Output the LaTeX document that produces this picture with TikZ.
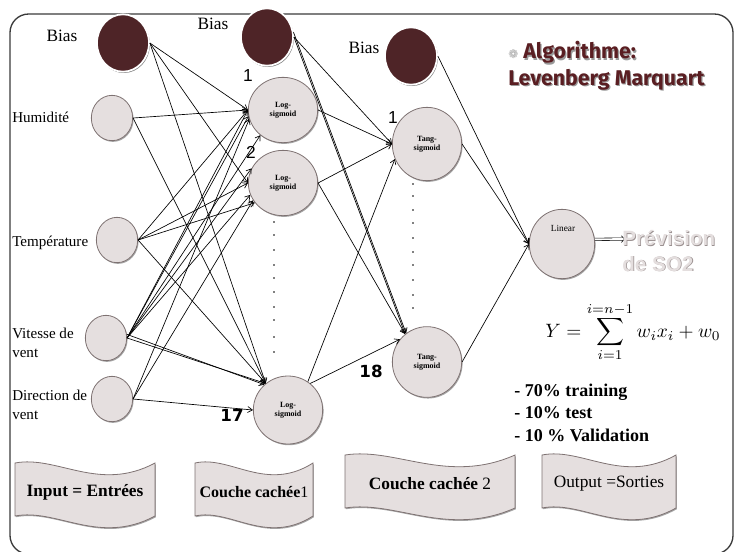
\documentclass[tikz,border=0pt]{standalone}
\usepackage{fontspec}
\usepackage{graphicx}
\setmainfont{Liberation Serif}
\newfontfamily\sansf{Liberation Sans}
\newfontfamily\dvs{DejaVu Sans}
\newfontfamily\fira{Fira Sans}
\usetikzlibrary{arrows.meta,shapes.geometric,shadows}
\definecolor{nodefill}{HTML}{E5DFDF}
\definecolor{nodeedge}{HTML}{7E7272}
\definecolor{biasfill}{HTML}{4E2427}
\definecolor{titlecol}{HTML}{5A1E22}
\definecolor{prevcol}{HTML}{E4DEDE}
\definecolor{prevshade}{HTML}{9A9090}
\definecolor{framecol}{HTML}{3A3A3A}
\newcommand\wbanner[4]{%
  \path[bannerbox] (#1,#2) .. controls ({#1+0.3*#3},{#2-8}) and ({#1+0.6*#3},{#2+30}) .. ({#1+#3},{#2})
    -- ({#1+#3},{#2+#4}) .. controls ({#1+0.6*#3},{#2+#4+30}) and ({#1+0.3*#3},{#2+#4-8}) .. ({#1},{#2+#4}) -- cycle;}
\begin{document}
\begin{tikzpicture}[x=0.75pt,y=-0.75pt,
  shd/.style={drop shadow={shadow xshift=0.7pt,shadow yshift=-0.9pt,opacity=0.35,fill=black}},
  inp/.style={ellipse,fill=nodefill,draw=nodeedge,line width=0.6pt,minimum width=31pt,minimum height=34pt,inner sep=0pt,shd},
  bias/.style={ellipse,fill=biasfill,draw=white,line width=1.3pt,minimum width=39pt,minimum height=43pt,inner sep=0pt,
     drop shadow={shadow xshift=0.7pt,shadow yshift=-1pt,opacity=0.5,fill=black}},
  hid/.style={ellipse,fill=nodefill,draw=nodeedge,line width=0.6pt,minimum width=52pt,minimum height=49pt,inner sep=0pt,
     align=center,font=\fontsize{6}{6.8}\selectfont\bfseries,shd},
  tang/.style={hid,minimum height=55pt},
  outn/.style={hid,minimum width=49pt,minimum height=52pt},
  bannerbox/.style={fill=nodefill,draw=nodeedge,line width=0.6pt,shd},
  lbl/.style={font=\fontsize{13}{15}\selectfont,inner sep=0pt},
  inlbl/.style={font=\fontsize{11.3}{14}\selectfont,anchor=west,align=left,inner sep=0pt},
  numl/.style={font=\sansf\fontsize{13}{15}\selectfont,inner sep=0pt},
  numb/.style={font=\dvs\bfseries\fontsize{12.5}{14}\selectfont,inner sep=0pt},
  arr/.style={-{Straight Barb[length=3.5pt,width=4.5pt]},line width=0.5pt},
  dbl/.style={double,double distance=1.4pt,line width=0.45pt,-{Implies[length=4pt]}},
  bul/.style={font=\fontsize{13.5}{16}\selectfont\bfseries,anchor=west,inner sep=0pt},
  bantext/.style={font=\fontsize{13}{15}\selectfont,inner sep=0pt}
]
\useasboundingbox (0,0) rectangle (734,551);
\begin{scope}
\clip (0,0) rectangle (734,551);
\draw[framecol,line width=1pt,rounded corners=14pt] (10,14) rectangle (733,554);
\end{scope}

% input layer
\node[inp] (hum) at (112,118) {};
\node[inp] (temp) at (117,240) {};
\node[inp] (vit) at (106,338) {};
\node[inp] (dir) at (112,399) {};
\node[bias] (b1) at (123,43) {};
\node[bias] (b2) at (267,37) {};
\node[bias] (b3) at (411,56) {};

% hidden layers
\node[hid] (h1) at (283,110) {Log-\\sigmoid};
\node[hid] (h2) at (283,183) {Log-\\sigmoid};
\node[hid,minimum height=51pt] (h17) at (288,410) {Log-\\sigmoid};
\node[tang] (t1) at (427,144) {Tang-\\sigmoid};
\node[tang,minimum height=53pt] (t18) at (427,362) {Tang-\\sigmoid};
\node[outn] (lin) at (562,244) {};
\node[font=\fontsize{7}{8}\selectfont,inner sep=0pt] (lintext) at (563,228) {Linear};

% labels
\node[lbl] (lbias1) at (62,36) {Bias};
\node[lbl] (lbias2) at (213,24) {Bias};
\node[lbl] (lbias3) at (364,48) {Bias};
\node[inlbl] (lhum) at (12,117) {Humidité};
\node[inlbl] (ltemp) at (12,243) {Température};
\node[inlbl] (lvit) at (12,343) {Vitesse de\\vent};
\node[inlbl] (ldir) at (12,405) {Direction de\\vent};
\node[numl] (n1a) at (248,76) {1};
\node[numl] (n2) at (251,152) {2};
\node[numb] (n17) at (232,415) {17};
\node[numl] (n1b) at (393,118) {1};
\node[numb] (n18) at (371,371) {18};

% dots
\foreach \yy in {222,235,250,265,278,292,307,320,337,352} \fill (274,\yy) circle (0.7pt);
\foreach \yy in {184,196,210,223,238,252,265,280,295,308} \fill (413,\yy) circle (0.7pt);

% connections input -> hidden 1
\draw[arr] (b1.east) -- (h1.west);
\draw[arr] (b1.east) -- (h2.west);
\draw[arr] (b1.east) -- (h17.130);
\draw[arr] (hum.east) -- (h1.west);
\draw[arr] (hum.east) -- (h17.130);
\draw[arr] (temp.east) -- (h1.west);
\draw[arr] (temp.east) -- (h2.west);
\draw[arr] (temp.east) -- (h2.215);
\draw[arr] (temp.east) -- (h17.130);
\draw[arr] (vit.east) -- (h1.west);
\draw[arr] (vit.east) -- (h1.190);
\draw[arr] (vit.east) -- (h1.228);
\draw[arr] (vit.east) -- (h2.155);
\draw[arr] (vit.east) -- (h2.200);
\draw[arr] (vit.east) -- (h17.130);
\draw[arr] (vit.10) -- (h17.133);
\draw[arr] (dir.east) -- (h1.195);
\draw[arr] (dir.east) -- (h2.210);
\draw[arr] (dir.east) -- (h17.west);

% hidden 1 -> hidden 2
\draw[arr] (b2.east) -- (t1.west);
\draw[arr] (b2.east) -- (t18.128);
\draw[arr] (b2.10) -- (t18.126);
\draw[arr] (h1.east) -- (t1.west);
\draw[arr] (h2.east) -- (t1.west);
\draw[arr] (h2.east) -- (t18.128);
\draw[arr] (h17.55) -- (t1.205);
\draw[arr] (h17.50) -- (t18.140);

% hidden 2 -> output
\draw[arr] (b3.east) -- (lin.west);
\draw[arr] (t1.east) -- (lin.west);
\draw[arr] (t18.east) -- (lin.west);
\coordinate (pv) at (626,239);
\draw[dbl] (lin.8) -- (pv);

% Prevision text
\node[anchor=west,align=left,inner sep=0pt,text=prevshade,font=\sansf\bfseries\fontsize{15.5}{19}\selectfont] (prevs) at (622.8,251.8) {Prévision\\de SO2};
\node[anchor=west,align=left,inner sep=0pt,text=prevcol,font=\sansf\bfseries\fontsize{15.5}{19}\selectfont] (prev) at (622,251) {Prévision\\de SO2};

% title
\node[anchor=west,align=left,inner sep=0pt,text=black!40,font=\fira\bfseries\fontsize{16}{20}\selectfont] (titles) at (509.2,67.2) {\phantom{\dvs\fontsize{9}{9}\selectfont ❁} Algorithme:\\Levenberg Marquart};
\node[anchor=west,align=left,inner sep=0pt,text=titlecol,font=\fira\bfseries\fontsize{16}{20}\selectfont] (title) at (508,66) {{\dvs\fontsize{9}{9}\selectfont\color{black!35}❁} Algorithme:\\Levenberg Marquart};

% formula
\node[inner sep=0pt] (formula) at (633,332) {\scalebox{1.45}{$Y=\displaystyle\sum_{i=1}^{i=n-1} w_i x_i + w_0$}};

% bullets
\node[bul] (p70) at (514,392) {- 70\% training};
\node[bul] (p10) at (514,413) {- 10\% test};
\node[bul] (pval) at (514,435) {- 10 \% Validation};

% banners
\wbanner{15}{463}{140}{53}
\wbanner{195}{463}{118}{53}
\wbanner{345}{455}{170}{53}
\wbanner{542}{455}{134}{53}
\node[bantext] (ban1) at (85,492) {\bfseries Input = Entrées};
\node[bantext,font=\fontsize{12}{14}\selectfont] (ban2) at (254,492) {\textbf{Couche cachée}1};
\node[bantext] (ban3) at (430,484) {\textbf{Couche cachée} 2};
\node[bantext] (ban4) at (609,484) {Output =Sorties};
\end{tikzpicture}
\end{document}
